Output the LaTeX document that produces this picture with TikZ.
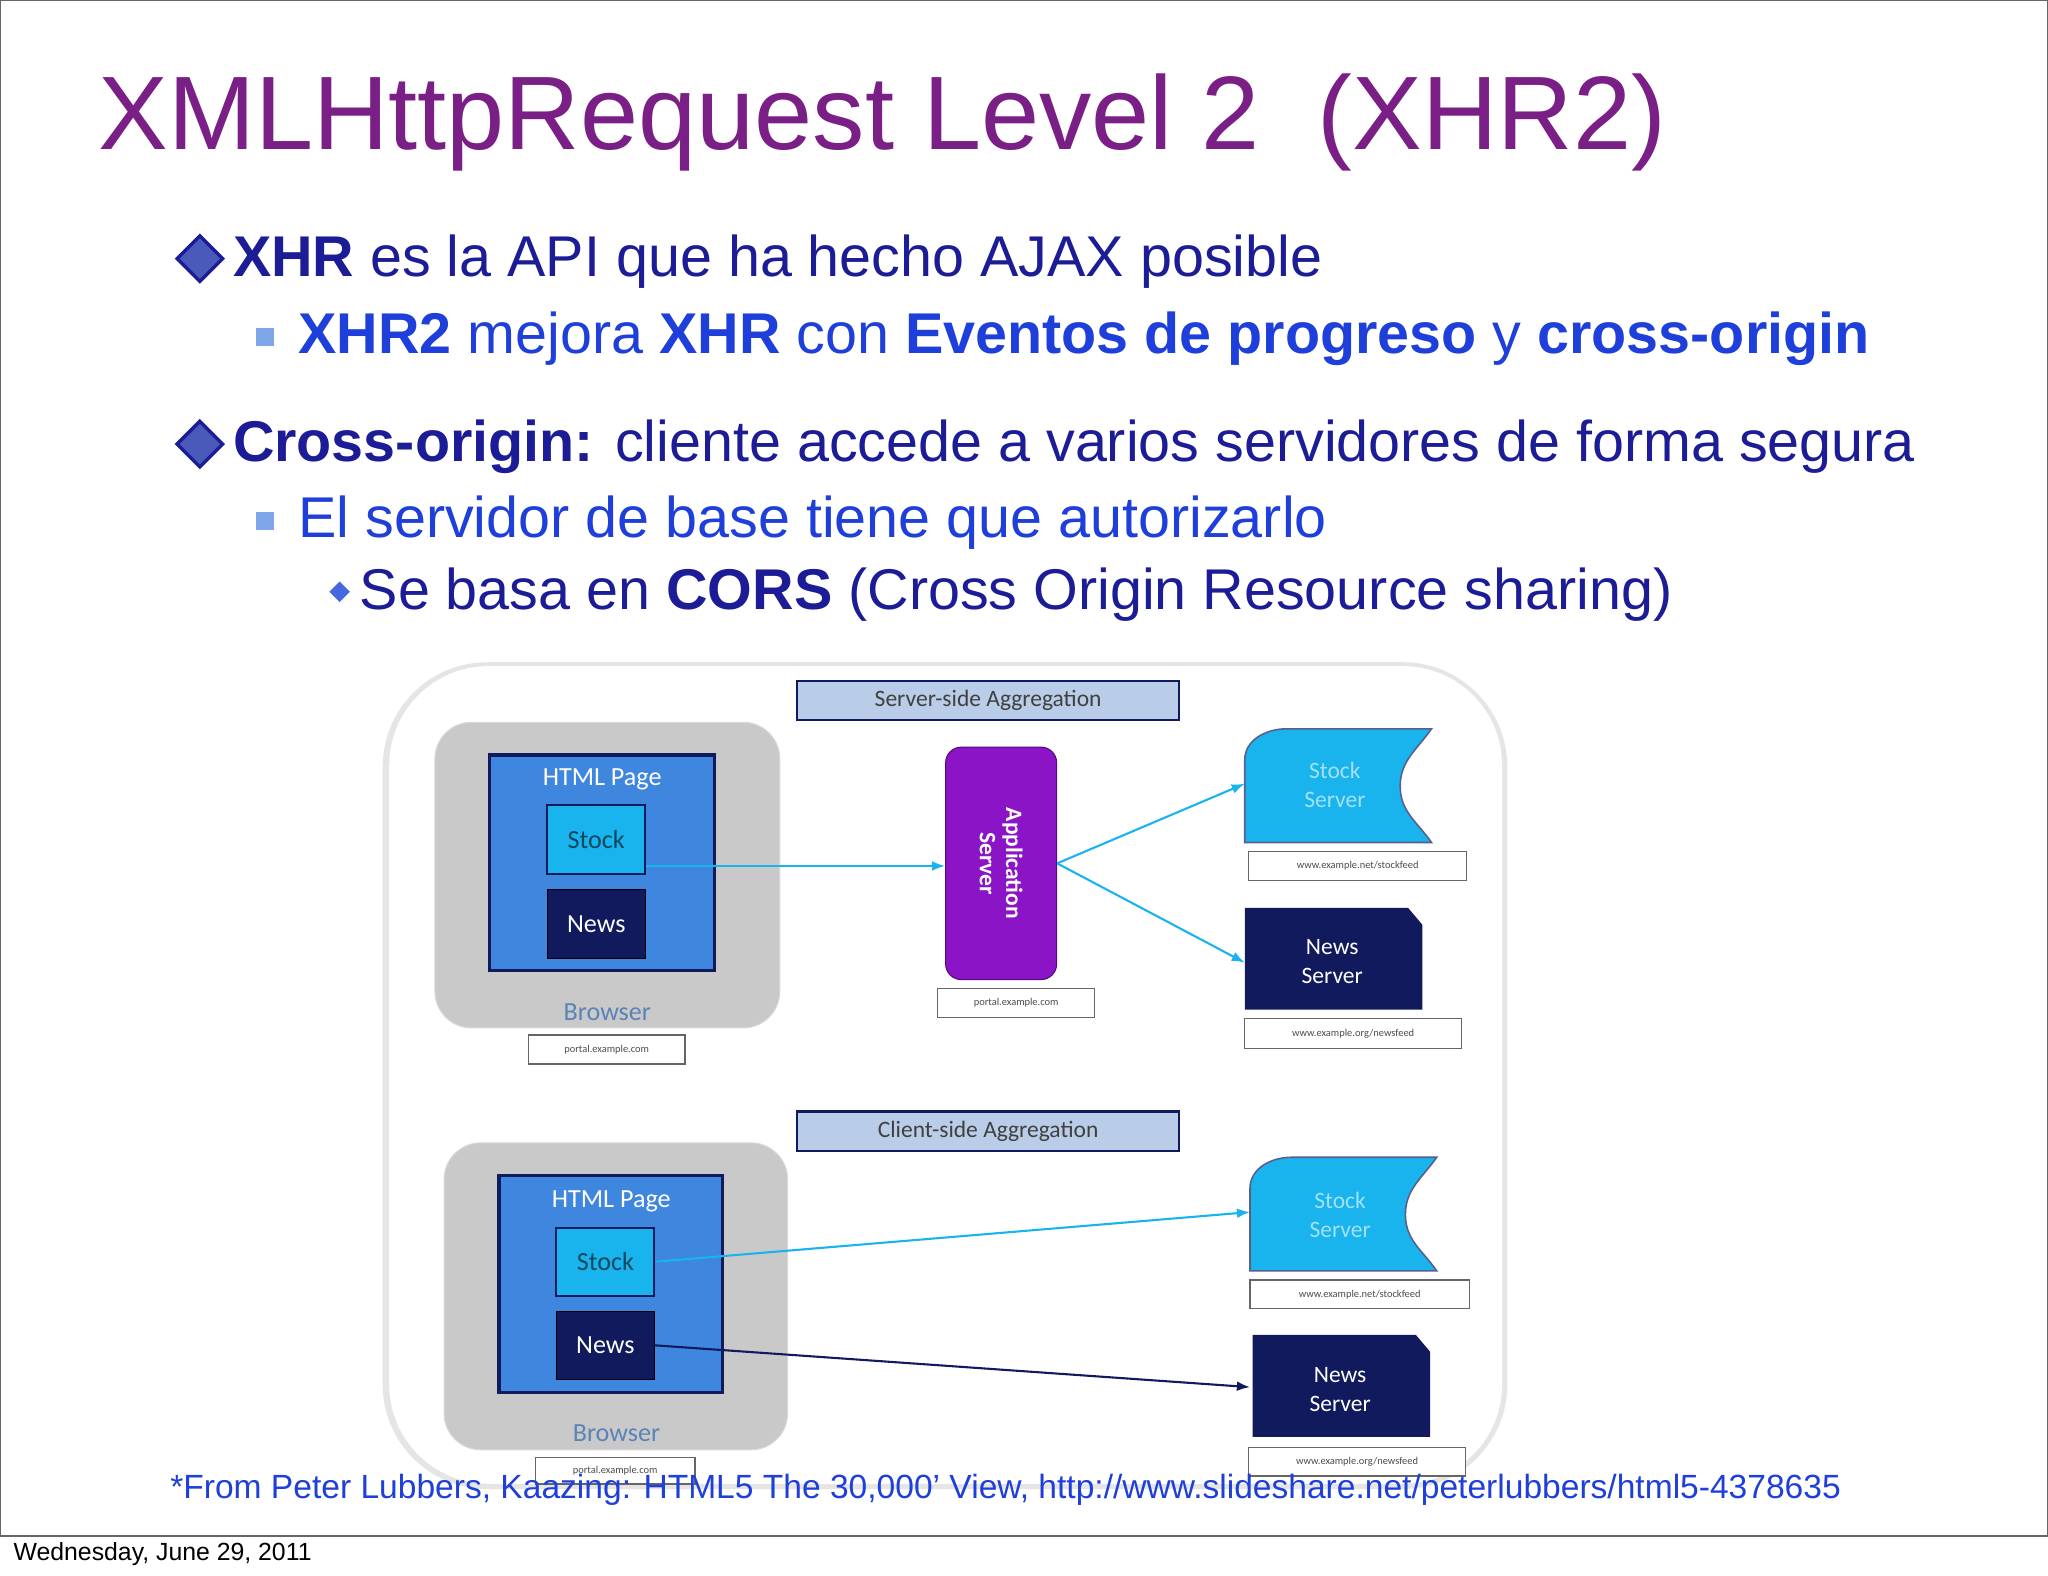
\documentclass[tikz,border=0pt]{standalone}
\usepackage{fontspec}
\setmainfont{Liberation Sans}
\newfontfamily\calfont{Carlito}
\usetikzlibrary{arrows.meta,shapes.geometric}
\definecolor{ttl}{HTML}{7A1F86}
\definecolor{lvone}{HTML}{1C1C96}
\definecolor{lvtwo}{HTML}{1E3FDA}
\definecolor{bul}{HTML}{7FA6E8}
\definecolor{lbl}{HTML}{B9CDE8}
\definecolor{gbox}{HTML}{C9C9C9}
\definecolor{page}{HTML}{3F86DE}
\definecolor{stk}{HTML}{19B3EE}
\definecolor{nws}{HTML}{101A5C}
\definecolor{app}{HTML}{8A14C6}
\definecolor{brw}{HTML}{5A84B8}
\tikzset{
 lab/.style={draw=nws,fill=lbl,line width=0.8pt,font=\calfont\fontsize{9}{10}\selectfont,text=black!75},
 url/.style={draw=black!60,fill=white,line width=0.5pt,font=\calfont\fontsize{4}{5}\selectfont,text=black!70},
 gray/.style={fill=gbox,rounded corners=14pt,draw=black!15},
 pg/.style={fill=page,draw=nws,line width=1.2pt},
 stkbox/.style={fill=stk,draw=nws,line width=0.8pt,font=\calfont\fontsize{10}{11}\selectfont,text=black!60!stk},
 nwsbox/.style={fill=nws,draw=black,line width=0.5pt,font=\calfont\fontsize{10}{11}\selectfont,text=white},
 srv/.style={font=\calfont\fontsize{9}{11}\selectfont,text=white,align=center},
 arr/.style={-{Latex[length=5pt]},line width=0.8pt},
 txt/.style={anchor=west,inner sep=0pt},
 dia/.style={diamond,fill=lvone!55!bul,draw=lvone,line width=1.3pt,inner sep=4.5pt}
}
\begin{document}
\begin{tikzpicture}[x=0.5pt,y=-0.5pt]
\useasboundingbox (0,0) rectangle (1568,1206);
\fill[white] (0,0) rectangle (1568,1206);
\draw[black!60,line width=0.6pt] (0,0) -- (1568,0) (0,0) -- (0,1176) -- (1568,1176) (1567.5,0)--(1567.5,1176);
\node[txt,text=ttl,font=\fontsize{40}{46}\selectfont] (title) at (75,94) {XMLHttpRequest Level 2\ \ (XHR2)};
% bullets
\node[dia] (d1) at (153,198) {};
\node[txt,text=lvone,font=\fontsize{22}{26}\selectfont] (t1) at (178,200) {\textbf{XHR} es la API que ha hecho AJAX posible};
\node[fill=bul,inner sep=3.5pt] (s1) at (203,258) {};
\node[txt,text=lvtwo,font=\fontsize{22}{26}\selectfont] (t2) at (228,259) {\textbf{XHR2} mejora \textbf{XHR} con \textbf{Eventos de progreso} y \textbf{cross-origin}};
\node[dia] (d2) at (153,340) {};
\node[txt,text=lvone,font=\fontsize{22}{26}\selectfont] (t3) at (178,342) {\textbf{Cross-origin:} cliente accede a varios servidores de forma segura};
\node[fill=bul,inner sep=3.5pt] (s2) at (203,399) {};
\node[txt,text=lvtwo,font=\fontsize{22}{26}\selectfont] (t4) at (228,400) {El servidor de base tiene que autorizarlo};
\node[diamond,fill=lvtwo!60!bul,inner sep=2pt] (d3) at (260,453) {};
\node[txt,text=lvone,font=\fontsize{22}{26}\selectfont] (t5) at (275,455) {Se basa en \textbf{CORS} (Cross Origin Resource sharing)};
% diagram frame
\fill[black!10,rounded corners=40pt] (293,507) rectangle (1154,1140);
\fill[white,rounded corners=38pt] (298,510) rectangle (1150,1136);
% server side
\node[lab,minimum width=146.5pt,minimum height=15pt] (l1) at (756.5,536.5) {Server-side Aggregation};
\fill[gray] (333,553) rectangle (597,787);
\draw[pg] (375,578) rectangle (547,743);
\node[srv,font=\calfont\fontsize{10}{11}\selectfont] (hp1) at (461,597) {HTML Page};
\node[stkbox,minimum width=37.5pt,minimum height=26.5pt] (st1) at (456.5,642.5) {Stock};
\node[nwsbox,minimum width=37.5pt,minimum height=26.5pt] (nw1) at (456.5,707.5) {News};
\node[text=brw,font=\calfont\fontsize{10}{11}\selectfont] (b1) at (465,775) {Browser};
\node[url,minimum width=60pt,minimum height=11pt] (u1) at (464.5,803.5) {portal.example.com};
\node[fill=app,draw=app!60!black,rounded corners=6pt,minimum width=42.5pt,minimum height=89pt] (ap) at (766.5,661) {};
\node[rotate=-90,srv,font=\calfont\bfseries\fontsize{9}{10}\selectfont] at (ap.center) {Application\\Server};
\node[url,minimum width=60pt,minimum height=11pt] (u2) at (778,768) {portal.example.com};
\path[fill=stk,draw=nws!70,line width=0.6pt] (953,645) -- (953,582) to[out=90,in=180] (985,558) -- (1096,558) to[out=235,in=90] (1072,602) to[out=-90,in=125] (1096,645) -- cycle;
\node[srv,text=stk!40!white] (ss1) at (1022,601) {Stock\\Server};
\node[url,minimum width=83.5pt,minimum height=11pt] (u3) at (1039.5,663) {www.example.net/stockfeed};
\path[fill=nws] (953,773) -- (953,695) -- (1078,695) -- (1089,708) -- (1089,773) -- cycle;
\node[srv] (ns1) at (1020,736) {News\\Server};
\node[url,minimum width=83pt,minimum height=11.5pt] (u4) at (1036,791.5) {www.example.org/newsfeed};
\coordinate (stin1) at (953,600);
\coordinate (nwin1) at (953,737);
\draw[arr,stk] (st1.east |- 0,663) -- (ap.west |- 0,663);
\draw[arr,stk] (ap.east) -- (stin1);
\draw[arr,stk] (ap.east) -- (nwin1);
% client side
\node[lab,minimum width=146.5pt,minimum height=15pt] (l2) at (756.5,866) {Client-side Aggregation};
\fill[gray] (340,875) rectangle (603,1110);
\draw[pg] (382,900) rectangle (553,1066);
\node[srv,font=\calfont\fontsize{10}{11}\selectfont] (hp2) at (468,920) {HTML Page};
\node[stkbox,minimum width=37.5pt,minimum height=26pt] (st2) at (463.5,966) {Stock};
\node[nwsbox,minimum width=37.5pt,minimum height=26pt] (nw2) at (463.5,1030) {News};
\node[text=brw,font=\calfont\fontsize{10}{11}\selectfont] (b2) at (472,1097) {Browser};
\node[url,minimum width=61pt,minimum height=10pt] (u5) at (471,1126) {portal.example.com};
\path[fill=stk,draw=nws!70,line width=0.6pt] (957,973) -- (957,910) to[out=90,in=180] (989,886) -- (1100,886) to[out=235,in=90] (1076,930) to[out=-90,in=125] (1100,973) -- cycle;
\node[srv,text=stk!40!white] (ss2) at (1026,930) {Stock\\Server};
\node[url,minimum width=84pt,minimum height=11pt] (u6) at (1041,991) {www.example.net/stockfeed};
\path[fill=nws] (959,1100) -- (959,1022) -- (1084,1022) -- (1095,1035) -- (1095,1100) -- cycle;
\node[srv] (ns2) at (1026,1064) {News\\Server};
\node[url,minimum width=83pt,minimum height=11pt] (u7) at (1039,1119) {www.example.org/newsfeed};
\coordinate (stin2) at (957,928);
\coordinate (nwin2) at (957,1062);
\draw[arr,stk] (st2.east) -- (stin2);
\draw[arr,nws] (nw2.east) -- (nwin2);
% footnote
\node[txt,text=lvtwo,font=\fontsize{12.85}{14}\selectfont] (fn) at (130,1141) {*From Peter Lubbers, Kaazing: HTML5 The 30,000’ View, http://www.slideshare.net/peterlubbers/html5-4378635};
\node[txt,font=\fontsize{9.5}{10}\selectfont] (dt) at (10,1190) {Wednesday, June 29, 2011};
\end{tikzpicture}
\end{document}
